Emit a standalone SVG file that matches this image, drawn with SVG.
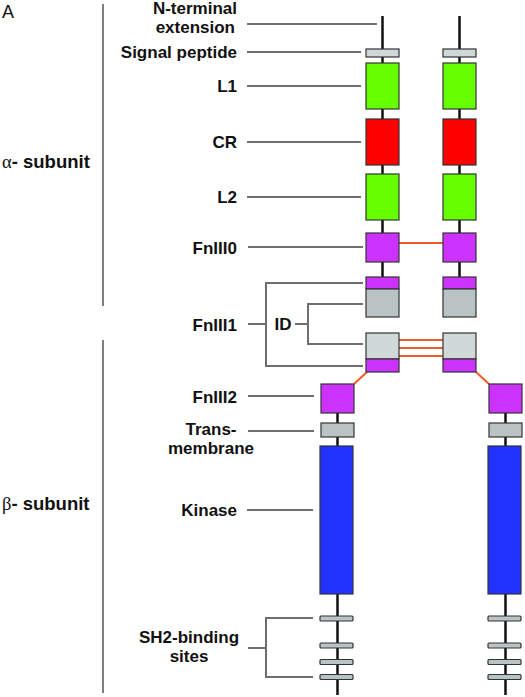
<svg xmlns="http://www.w3.org/2000/svg" width="525" height="697" viewBox="0 0 525 697">
<style>
.lbl{font-family:"Liberation Sans",Arial,sans-serif;font-weight:bold;font-size:17px;fill:#111}
.mid{text-anchor:middle}
.end{text-anchor:end}
.lead{stroke:#6e6e6e;stroke-width:2;fill:none}
.chain{stroke:#111;stroke-width:2.5;fill:none}
.bond{stroke:#f05a28;stroke-width:2;fill:none}
.box{stroke:#333;stroke-width:1.2}
.grn{fill:#66ff00}
.red{fill:#ff0000}
.mag{fill:#cc33ff}
.gl{fill:#d0d8d8}
.gd{fill:#bac3c3}
.blu{fill:#2233ff}
.bar{stroke:#555;stroke-width:1.5;fill:none}
</style>
<rect width="525" height="697" fill="#fff"/>
<g id="panel-label"><text x="2" y="18" style="font-family:'Liberation Sans',Arial,sans-serif;font-size:18px;fill:#111">A</text></g>
<g id="alpha-subunit">
<text x="2" y="168" style="font-family:'Liberation Sans',Arial,sans-serif;font-size:18.5px;fill:#111"><tspan style="font-family:'Liberation Serif','Times New Roman',serif">α</tspan><tspan font-weight="bold">- subunit</tspan></text>
<line class="bar" x1="103" y1="4" x2="103" y2="306"/>
</g>
<g id="beta-subunit">
<text x="2" y="510" style="font-family:'Liberation Sans',Arial,sans-serif;font-size:18.5px;fill:#111"><tspan style="font-family:'Liberation Serif','Times New Roman',serif">β</tspan><tspan font-weight="bold">- subunit</tspan></text>
<line class="bar" x1="103" y1="340" x2="103" y2="693"/>
</g>
<g id="connectors">
<!-- backbone chains -->
<line class="chain" x1="382.5" y1="16" x2="382.5" y2="317"/>
<line class="chain" x1="459.5" y1="16" x2="459.5" y2="317"/>
<line class="chain" x1="337.5" y1="413" x2="337.5" y2="695"/>
<line class="chain" x1="505.5" y1="413" x2="505.5" y2="695"/>
<!-- disulfide bonds -->
<line class="bond" x1="399" y1="243" x2="443" y2="243"/>
<line class="bond" x1="399" y1="340" x2="443" y2="340"/>
<line class="bond" x1="399" y1="348" x2="443" y2="348"/>
<line class="bond" x1="399" y1="356" x2="443" y2="356"/>
<line class="bond" x1="367" y1="372" x2="354" y2="384"/>
<line class="bond" x1="476" y1="372" x2="489" y2="384"/>
<!-- leader lines -->
<line class="lead" x1="247" y1="24" x2="377" y2="24"/>
<line class="lead" x1="247" y1="52" x2="361" y2="52"/>
<line class="lead" x1="247" y1="86" x2="361" y2="86"/>
<line class="lead" x1="247" y1="142" x2="361" y2="142"/>
<line class="lead" x1="247" y1="197" x2="361" y2="197"/>
<line class="lead" x1="248" y1="247" x2="363" y2="247"/>
<path class="lead" d="M363 283 H266 V366 H363 M248 324 H266"/>
<path class="lead" d="M363 304 H308 V344 H363 M295 324 H308"/>
<line class="lead" x1="248" y1="396" x2="314" y2="396"/>
<line class="lead" x1="248" y1="431" x2="314" y2="431"/>
<line class="lead" x1="247" y1="510" x2="313" y2="510"/>
<path class="lead" d="M313 618 H266 V677 H313 M248 648 H266"/>
</g>
<g id="n-terminal"><text class="lbl end" x="237" y="14">N-terminal</text><text class="lbl end" x="235" y="33">extension</text></g>
<g id="signal-peptide"><text class="lbl end" x="237" y="58">Signal peptide</text>
<rect class="box gl" x="366" y="49" width="33" height="8"/><rect class="box gl" x="443" y="49" width="33" height="8"/></g>
<g id="L1"><text class="lbl end" x="237" y="92">L1</text>
<rect class="box grn" x="366" y="63" width="33" height="46"/><rect class="box grn" x="443" y="63" width="33" height="46"/></g>
<g id="CR"><text class="lbl end" x="237" y="148">CR</text>
<rect class="box red" x="366" y="119" width="33" height="46"/><rect class="box red" x="443" y="119" width="33" height="46"/></g>
<g id="L2"><text class="lbl end" x="237" y="203">L2</text>
<rect class="box grn" x="366" y="174" width="33" height="46"/><rect class="box grn" x="443" y="174" width="33" height="46"/></g>
<g id="FnIII0"><text class="lbl end" x="237" y="254">FnIII0</text>
<rect class="box mag" x="366" y="233" width="33" height="29"/><rect class="box mag" x="443" y="233" width="33" height="29"/></g>
<g id="FnIII1"><text class="lbl end" x="237" y="331">FnIII1</text>
<rect class="box mag" x="366" y="277" width="33" height="12"/><rect class="box gd" x="366" y="289" width="33" height="28"/>
<rect class="box mag" x="443" y="277" width="33" height="12"/><rect class="box gd" x="443" y="289" width="33" height="28"/>
<rect class="box gl" x="366" y="333" width="33" height="26"/><rect class="box mag" x="366" y="359" width="33" height="13"/>
<rect class="box gl" x="443" y="333" width="33" height="26"/><rect class="box mag" x="443" y="359" width="33" height="13"/></g>
<g id="ID"><text class="lbl mid" x="283" y="330">ID</text></g>
<g id="FnIII2"><text class="lbl end" x="237" y="403">FnIII2</text>
<rect class="box mag" x="321" y="384" width="33" height="29"/><rect class="box mag" x="489" y="384" width="33" height="29"/></g>
<g id="transmembrane"><text class="lbl mid" x="211" y="435">Trans-</text><text class="lbl mid" x="211" y="454">membrane</text>
<rect class="box gd" x="321" y="423" width="33" height="14"/><rect class="box gd" x="489" y="423" width="33" height="14"/></g>
<g id="kinase"><text class="lbl end" x="237" y="516">Kinase</text>
<rect class="box blu" x="320" y="446" width="33" height="148"/><rect class="box blu" x="488" y="446" width="33" height="148"/></g>
<g id="sh2-sites"><text class="lbl mid" x="189" y="643">SH2-binding</text><text class="lbl mid" x="189" y="662">sites</text>
<rect class="box gd" x="320" y="616" width="33" height="5" rx="1"/><rect class="box gd" x="320" y="643" width="33" height="5" rx="1"/>
<rect class="box gd" x="320" y="659.5" width="33" height="5" rx="1"/><rect class="box gd" x="320" y="674.5" width="33" height="5" rx="1"/>
<rect class="box gd" x="488" y="616" width="33" height="5" rx="1"/><rect class="box gd" x="488" y="643" width="33" height="5" rx="1"/>
<rect class="box gd" x="488" y="659.5" width="33" height="5" rx="1"/><rect class="box gd" x="488" y="674.5" width="33" height="5" rx="1"/></g>
</svg>
